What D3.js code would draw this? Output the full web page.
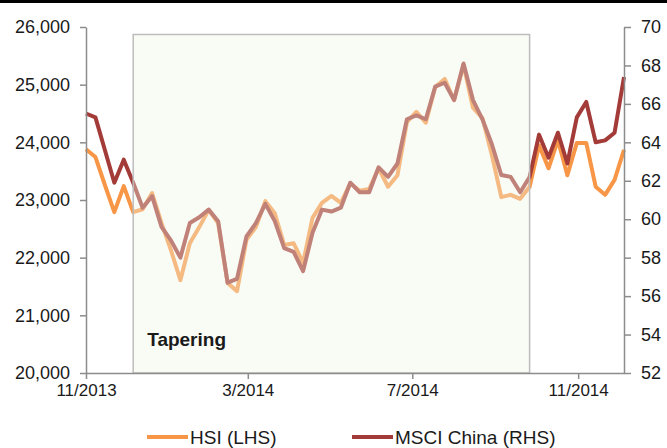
<!DOCTYPE html>
<html>
<head>
<meta charset="utf-8">
<script src="https://cdn.jsdelivr.net/npm/d3@7"></script>
<style>
  body { margin: 0; background: #fff; }
  text { font-family: "Liberation Sans", Arial, sans-serif; fill: #1a1a1a; }
</style>
</head>
<body>
<script>
// weekly closes, starting 1 Nov 2013
const firstWeek = new Date(2013, 10, 1);

const hsi = [23880, 23745, 23260, 22790, 23240, 22790, 22840, 23120, 22600, 22130,
    21610, 22250, 22530, 22830, 22600, 21560, 21420, 22310, 22530, 22980,
    22770, 22220, 22250, 21910, 22690, 22950, 23070, 22950, 23290, 23160,
    23190, 23550, 23230, 23430, 24350, 24530, 24340, 24960, 25100, 24730,
    25340, 24600, 24420, 23780, 23050, 23090, 23020, 23230, 23950, 23550,
    24040, 23430, 23990, 23990, 23230, 23090, 23350, 23870];

const msci = [65.5, 65.3, 63.6, 61.9, 63.1, 61.9, 60.6, 61.2, 59.6, 58.9,
    58.0, 59.8, 60.1, 60.5, 59.9, 56.7, 56.9, 59.1, 59.8, 60.8,
    59.9, 58.5, 58.3, 57.3, 59.3, 60.5, 60.4, 60.6, 61.9, 61.4,
    61.4, 62.7, 62.2, 62.9, 65.2, 65.4, 65.2, 66.9, 67.1, 66.2,
    68.1, 66.2, 65.2, 63.9, 62.3, 62.2, 61.4, 62.2, 64.4, 63.2,
    64.5, 62.9, 65.3, 66.1, 64.0, 64.1, 64.5, 67.4];

const xTickDates = [new Date(2013, 10, 1), new Date(2014, 2, 1), new Date(2014, 6, 1), new Date(2014, 10, 1)];
const leftTicks = [20000, 21000, 22000, 23000, 24000, 25000, 26000];
const rightTicks = [52, 54, 56, 58, 60, 62, 64, 66, 68, 70];

const taperStart = new Date(2013, 11, 6);
const taperEnd = new Date(2014, 8, 26);
const taperTop = 25870;

const weeks = hsi.map((d, i) => d3.timeDay.offset(firstWeek, i * 7));

const W = 667, H = 448;
const margin = {top: 27, right: 43, bottom: 75, left: 86};

const svg = d3.select("body").append("svg")
    .attr("width", W)
    .attr("height", H);

// black strip along the top edge of the picture
svg.append("rect").attr("x", 0).attr("y", 0).attr("width", W).attr("height", 3).attr("fill", "#000");

const x = d3.scaleTime()
    .domain([weeks[0], weeks[weeks.length - 1]])
    .range([margin.left, W - margin.right]);

const yL = d3.scaleLinear().domain([20000, 26000]).range([H - margin.bottom, margin.top]);
const yR = d3.scaleLinear().domain([52, 70]).range([H - margin.bottom, margin.top]);

const orange = "#f79646", red = "#a33b38", axisGrey = "#8c8c8c";

const lineL = d3.line().x((d, i) => x(weeks[i])).y(d => yL(d));
const lineR = d3.line().x((d, i) => x(weeks[i])).y(d => yR(d));

svg.append("path").datum(hsi)
    .attr("d", lineL)
    .attr("fill", "none").attr("stroke", orange).attr("stroke-width", 4)
    .attr("stroke-linejoin", "round");

svg.append("path").datum(msci)
    .attr("d", lineR)
    .attr("fill", "none").attr("stroke", red).attr("stroke-width", 4)
    .attr("stroke-linejoin", "round");

// tapering period, laid over the lines
svg.append("rect")
    .attr("x", x(taperStart))
    .attr("y", yL(taperTop))
    .attr("width", x(taperEnd) - x(taperStart))
    .attr("height", yL(20000) - yL(taperTop))
    .attr("fill", "rgb(238,245,228)")
    .attr("fill-opacity", 0.38)
    .attr("stroke", "#bdbdbd")
    .attr("stroke-width", 1.5);

svg.append("text")
    .attr("x", x(taperStart) + 14)
    .attr("y", yL(20000) - 27)
    .style("font-weight", "bold")
    .style("font-size", "19px")
    .text("Tapering");

// axes
function styleAxis(g) {
    g.select(".domain").attr("stroke", axisGrey).attr("stroke-width", 1.5);
    g.selectAll(".tick line").attr("stroke", axisGrey).attr("stroke-width", 1.5);
    g.selectAll(".tick text").attr("fill", "#1a1a1a");
}

svg.append("g")
    .attr("transform", `translate(${margin.left},0)`)
    .call(d3.axisLeft(yL).tickValues(leftTicks).tickFormat(d3.format(",")).tickSize(6).tickPadding(10).tickSizeOuter(0))
    .call(styleAxis)
    .call(g => g.selectAll("text").style("font-size", "18px").style("font-family", "Liberation Sans, Arial, sans-serif"));

svg.append("g")
    .attr("transform", `translate(${W - margin.right},0)`)
    .call(d3.axisRight(yR).tickValues(rightTicks).tickSize(7).tickPadding(10).tickSizeOuter(0))
    .call(styleAxis)
    .call(g => g.selectAll("text").style("font-size", "18px").style("font-family", "Liberation Sans, Arial, sans-serif"));

svg.append("g")
    .attr("transform", `translate(0,${H - margin.bottom})`)
    .call(d3.axisBottom(x).tickValues(xTickDates).tickFormat(d3.timeFormat("%-m/%Y")).tickSize(6).tickPadding(5).tickSizeOuter(0))
    .call(styleAxis)
    .call(g => g.selectAll("text").style("font-size", "17px").style("font-family", "Liberation Sans, Arial, sans-serif"));

// legend
const legendItems = [
    {name: "HSI (LHS)", color: orange, x: 147},
    {name: "MSCI China (RHS)", color: red, x: 352}
];

const legend = svg.selectAll(".legend")
    .data(legendItems)
    .join("g")
    .attr("class", "legend")
    .attr("transform", d => `translate(${d.x}, 437)`);

legend.append("line")
    .attr("x1", 0).attr("x2", 41)
    .attr("stroke", d => d.color)
    .attr("stroke-width", 4);

legend.append("text")
    .attr("x", 43)
    .attr("y", 7)
    .style("font-size", "19px")
    .text(d => d.name);
</script>
</body>
</html>
